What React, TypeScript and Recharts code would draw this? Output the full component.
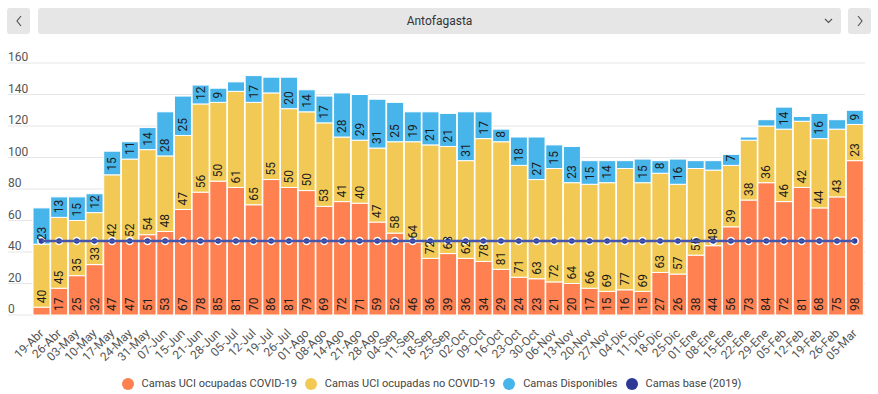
import React from 'react';
import { ComposedChart, Bar, Line, XAxis, YAxis, CartesianGrid, LabelList } from 'recharts';

const fechas = [
  '19-Abr', '26-Abr', '03-May', '10-May', '17-May', '24-May', '31-May', '07-Jun', '15-Jun', '21-Jun',
  '28-Jun', '05-Jul', '12-Jul', '19-Jul', '26-Jul', '01-Ago', '08-Ago', '14-Ago', '21-Ago', '28-Ago',
  '04-Sep', '11-Sep', '18-Sep', '25-Sep', '02-Oct', '09-Oct', '16-Oct', '23-Oct', '30-Oct', '06-Nov',
  '13-Nov', '20-Nov', '27-Nov', '04-Dic', '11-Dic', '18-Dic', '25-Dic', '01-Ene', '08-Ene', '15-Ene',
  '22-Ene', '29-Ene', '05-Feb', '12-Feb', '19-Feb', '26-Feb', '05-Mar',
];

const ocupadasCovid = [
  5, 17, 25, 32, 47, 47, 51, 53, 67, 78,
  85, 81, 70, 86, 81, 79, 69, 72, 71, 59,
  52, 46, 36, 39, 36, 34, 29, 24, 23, 21,
  20, 17, 15, 16, 15, 27, 26, 38, 44, 56,
  73, 84, 72, 81, 68, 75, 98,
];

const ocupadasNoCovid = [
  40, 45, 35, 33, 42, 52, 54, 48, 47, 56,
  50, 61, 65, 55, 50, 50, 53, 41, 40, 47,
  58, 64, 72, 68, 62, 78, 81, 71, 63, 72,
  64, 66, 69, 77, 69, 63, 57, 55, 48, 39,
  38, 36, 46, 42, 44, 43, 23,
];

const disponibles = [
  23, 13, 15, 12, 15, 11, 14, 28, 25, 12,
  9, 6, 17, 10, 20, 14, 17, 28, 29, 31,
  25, 19, 21, 21, 31, 17, 8, 18, 27, 15,
  23, 15, 14, 5, 15, 8, 16, 5, 6, 7,
  2, 4, 14, 3, 16, 6, 9,
];

const camasBase = fechas.map(() => 47);

const yTicks = [0, 20, 40, 60, 80, 100, 120, 140, 160];

const NARANJA = '#ff8050';
const AMARILLO = '#f2c955';
const CELESTE = '#47b4ea';
const AZUL = '#2c3a96';

const data = fechas.map((fecha, i) => ({
  fecha,
  covid: ocupadasCovid[i],
  noCovid: ocupadasNoCovid[i],
  disponibles: disponibles[i],
  base: camasBase[i],
}));

// label rotated inside the segment, hidden when it does not fit
const SegmentLabel = (props: any) => {
  const vb = props.viewBox || props;
  const { x, y, width, height } = vb;
  const value = props.value;
  if (value == null) return null;
  const txt = String(value);
  if (height < txt.length * 6.7 + 3) return null;
  const cx = x + width / 2;
  const by = y + height - 4;
  return (
    <text
      transform={`translate(${cx},${by}) rotate(-90)`}
      textAnchor="start"
      dominantBaseline="central"
      fontSize={12}
      fill="#1c1c1c"
      fontFamily="Roboto, sans-serif"
    >
      {txt}
    </text>
  );
};

const XTick = ({ x, y, payload }: any) => (
  <text
    transform={`translate(${x + 3},${y + 17}) rotate(-45)`}
    textAnchor="end"
    fontSize={12}
    fill="#555"
    fontFamily="Roboto, sans-serif"
  >
    {payload.value}
  </text>
);

const YTick = ({ y, payload }: any) => (
  <text x={8} y={y - 2} fontSize={12} fill="#555" fontFamily="Roboto, sans-serif">
    {payload.value}
  </text>
);

const leyenda = [
  { nombre: 'Camas UCI ocupadas COVID-19', color: NARANJA },
  { nombre: 'Camas UCI ocupadas no COVID-19', color: AMARILLO },
  { nombre: 'Camas Disponibles', color: CELESTE },
  { nombre: 'Camas base (2019)', color: AZUL },
];

const Chevron = ({ dir }: { dir: 'left' | 'right' | 'down' }) => {
  const pts = dir === 'left' ? '6,1 2,6 6,11' : dir === 'right' ? '2,1 6,6 2,11' : '1,1 4.5,4.5 8,1';
  const w = dir === 'down' ? 9 : 8;
  const h = dir === 'down' ? 6 : 12;
  return (
    <svg width={w} height={h} style={{ display: 'block' }}>
      <polyline points={pts} fill="none" stroke="#555" strokeWidth={1.2} />
    </svg>
  );
};

const boton: React.CSSProperties = {
  position: 'absolute',
  top: 8,
  height: 26,
  background: '#e6e6e6',
  borderRadius: 3,
  display: 'flex',
  alignItems: 'center',
  justifyContent: 'center',
};

export default function App() {
  return (
    <div
      style={{
        position: 'absolute',
        left: 0,
        top: 0,
        width: 878,
        height: 394,
        background: '#fff',
        fontFamily: 'Roboto, sans-serif',
      }}
    >
      <ComposedChart
        width={878}
        height={394}
        data={data}
        margin={{ top: 63, right: 13, left: 7, bottom: 39 }}
        barCategoryGap={0.5}
      >
        <CartesianGrid vertical={false} stroke="#e6e6e6" />
        <XAxis
          dataKey="fecha"
          interval={0}
          tick={<XTick />}
          tickLine={false}
          axisLine={false}
          tickSize={0}
          height={40}
          padding={{ left: 24.5, right: 1.5 }}
        />
        <YAxis
          domain={[0, 160]}
          ticks={yTicks}
          width={1}
          tick={<YTick />}
          tickLine={false}
          axisLine={false}
        />
        <Bar dataKey="covid" stackId="a" fill={NARANJA} stroke="#fff" strokeWidth={1} isAnimationActive={false}>
          <LabelList dataKey="covid" content={<SegmentLabel />} />
        </Bar>
        <Bar dataKey="noCovid" stackId="a" fill={AMARILLO} stroke="#fff" strokeWidth={1} isAnimationActive={false}>
          <LabelList dataKey="noCovid" content={<SegmentLabel />} />
        </Bar>
        <Bar dataKey="disponibles" stackId="a" fill={CELESTE} stroke="#fff" strokeWidth={1} isAnimationActive={false}>
          <LabelList dataKey="disponibles" content={<SegmentLabel />} />
        </Bar>
        <Line
          dataKey="base"
          type="linear"
          stroke="#4656aa"
          strokeWidth={2.5}
          dot={{ r: 3.5, fill: AZUL, stroke: '#fff', strokeWidth: 1.5 }}
          isAnimationActive={false}
          {...({ zIndex: 2500 } as any)}
        />
      </ComposedChart>

      <div style={{ ...boton, left: 7, width: 23 }}>
        <Chevron dir="left" />
      </div>
      <div style={{ ...boton, left: 38, width: 803 }}>
        <span style={{ fontSize: 12, color: '#333' }}>Antofagasta</span>
        <div style={{ position: 'absolute', right: 8, top: 10 }}>
          <Chevron dir="down" />
        </div>
      </div>
      <div style={{ ...boton, left: 848, width: 23 }}>
        <Chevron dir="right" />
      </div>

      <div
        style={{
          position: 'absolute',
          left: 0,
          top: 377,
          width: 871,
          display: 'flex',
          justifyContent: 'center',
          alignItems: 'center',
          fontSize: 11,
          color: '#444',
        }}
      >
        {leyenda.map((l) => (
          <div key={l.nombre} style={{ display: 'flex', alignItems: 'center', marginRight: 8 }}>
            <span
              style={{
                display: 'inline-block',
                width: 12,
                height: 12,
                borderRadius: 6,
                background: l.color,
                marginRight: 8,
              }}
            />
            <span>{l.nombre}</span>
          </div>
        ))}
      </div>
    </div>
  );
}
